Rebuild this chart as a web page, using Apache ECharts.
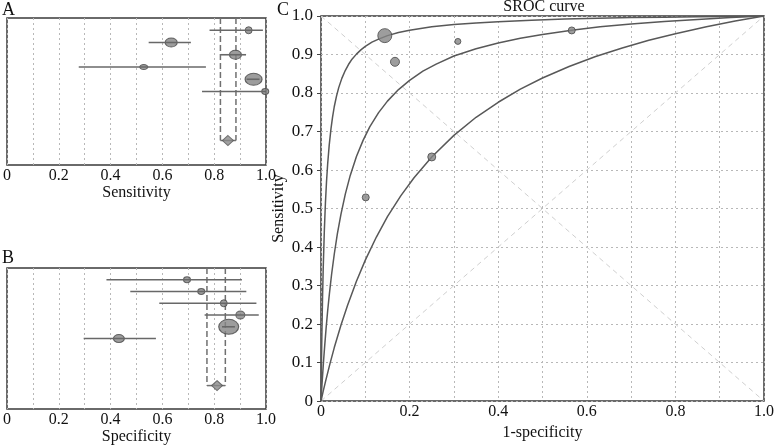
<!DOCTYPE html>
<html><head><meta charset="utf-8">
<script src="https://cdn.jsdelivr.net/npm/echarts@6/dist/echarts.min.js"></script>
<style>html,body{margin:0;padding:0;background:#fff}#c{width:777px;height:446px}</style>
</head><body><div id="c"></div>
<script>
// ---------- data ----------
const rows = [1, 2, 3, 4, 5, 6];
const pooledRow = 10;

const sensEst  = [0.933, 0.634, 0.882, 0.528, 0.952, 0.997];
const sensLow  = [0.782, 0.547, 0.826, 0.277, 0.925, 0.753];
const sensHigh = [0.988, 0.710, 0.923, 0.768, 0.975, 1.000];
const sensPooled = [0.853, 0.824, 0.884]; // estimate, low, high

const specEst  = [0.695, 0.750, 0.837, 0.901, 0.856, 0.432];
const specLow  = [0.384, 0.476, 0.588, 0.763, 0.830, 0.296];
const specHigh = [0.907, 0.924, 0.963, 0.972, 0.880, 0.575];
const specPooled = [0.811, 0.772, 0.843];

const srocFpr  = [0.309, 0.250, 0.167, 0.101, 0.144, 0.566];
const srocSens = [0.934, 0.634, 0.881, 0.529, 0.949, 0.9625];

const curveTopX = [0, 0.001, 0.002, 0.0035, 0.005, 0.0075, 0.01, 0.0125, 0.015, 0.0185, 0.0225, 0.026, 0.03, 0.035, 0.04, 0.047, 0.055, 0.062, 0.07, 0.08, 0.09, 0.1, 0.115, 0.13, 0.15, 0.175, 0.2, 0.25, 0.3, 0.35, 0.4, 0.475, 0.55, 0.625, 0.7, 0.775, 0.85, 0.925, 1];
const curveTopY = [0, 0.095, 0.174, 0.269, 0.345, 0.442, 0.515, 0.571, 0.615, 0.664, 0.707, 0.737, 0.765, 0.792, 0.814, 0.838, 0.859, 0.874, 0.888, 0.901, 0.912, 0.921, 0.932, 0.940, 0.949, 0.957, 0.963, 0.972, 0.978, 0.982, 0.985, 0.989, 0.992, 0.994, 0.996, 0.997, 0.998, 0.999, 1];
const curveMidX = [0, 0.001, 0.002, 0.004, 0.006, 0.0085, 0.0115, 0.015, 0.019, 0.024, 0.03, 0.037, 0.045, 0.055, 0.066, 0.08, 0.095, 0.11, 0.13, 0.15, 0.175, 0.2, 0.23, 0.26, 0.3, 0.35, 0.4, 0.45, 0.5, 0.566, 0.63, 0.7, 0.775, 0.85, 0.925, 1];
const curveMidY = [0, 0.020, 0.039, 0.074, 0.108, 0.146, 0.189, 0.234, 0.279, 0.330, 0.382, 0.435, 0.485, 0.538, 0.586, 0.635, 0.677, 0.712, 0.749, 0.779, 0.809, 0.833, 0.857, 0.875, 0.896, 0.915, 0.930, 0.942, 0.952, 0.963, 0.972, 0.979, 0.986, 0.991, 0.996, 1];
const curveLowX = [0, 0.005, 0.01, 0.02, 0.03, 0.045, 0.06, 0.08, 0.1, 0.125, 0.15, 0.18, 0.21, 0.25, 0.3, 0.35, 0.4, 0.45, 0.5, 0.56, 0.62, 0.68, 0.74, 0.8, 0.87, 0.935, 1];
const curveLowY = [0, 0.026, 0.050, 0.096, 0.139, 0.197, 0.249, 0.311, 0.366, 0.426, 0.479, 0.533, 0.580, 0.634, 0.690, 0.737, 0.776, 0.810, 0.839, 0.869, 0.895, 0.917, 0.937, 0.954, 0.972, 0.987, 1];

const diagUp   = [[0, 0], [1, 1]];
const diagDown = [[0, 1], [1, 0]];

const evenTickLabels = ['0', '0.2', '0.4', '0.6', '0.8', '1.0'];
const tenthTickLabels = ['0', '0.1', '0.2', '0.3', '0.4', '0.5', '0.6', '0.7', '0.8', '0.9', '1.0'];

// ---------- styles ----------
const FONT = 'Liberation Serif';
const sizeA = [[7, 7], [12, 9], [12, 9], [8, 5], [17, 12], [7, 6]];
const sizeB = [[7, 6], [7, 6], [7, 7], [9, 8], [20, 15], [11, 8]];
const sizeC = [6, 8, 9, 7, 14, 7];
const markerStyle = { color: '#858585', borderColor: '#474747', borderWidth: 1 };

function evenFmt(v) { const k = Math.round(v * 10); return k % 2 === 0 ? evenTickLabels[k / 2] : ''; }
function tenthFmt(v) { return tenthTickLabels[Math.round(v * 10)]; }

const gridLine = { show: true, lineStyle: { type: [2, 3], color: '#b8b8b8', width: 1 } };
const labelStyle = { fontFamily: FONT, fontSize: 16, color: '#111' };

function forestX(idx, name) {
  return {
    type: 'value', gridIndex: idx, min: 0, max: 1, interval: 0.1,
    axisLine: { show: false }, axisTick: { show: false }, splitLine: gridLine,
    axisLabel: Object.assign({ formatter: evenFmt, margin: 3, showMinLabel: true, showMaxLabel: true }, labelStyle),
    name: name, nameLocation: 'middle', nameGap: 17, nameTextStyle: labelStyle
  };
}
function forestY(idx) {
  return { type: 'value', gridIndex: idx, min: 0, max: 12, inverse: true, show: false };
}

function ciSeries(idx, low, high) {
  return {
    type: 'custom', xAxisIndex: idx, yAxisIndex: idx, z: 4,
    data: rows.map((r, i) => [low[i], high[i], r]),
    encode: { x: [0, 1], y: 2 },
    renderItem: function (params, api) {
      const p1 = api.coord([api.value(0), api.value(2)]);
      const p2 = api.coord([api.value(1), api.value(2)]);
      return { type: 'line', shape: { x1: p1[0], y1: p1[1], x2: p2[0], y2: p2[1] },
               style: { stroke: '#686868', lineWidth: 1.6 } };
    }
  };
}
function markerSeries(idx, est, sizes) {
  return {
    type: 'scatter', xAxisIndex: idx, yAxisIndex: idx, z: 3, symbol: 'circle',
    data: rows.map((r, i) => ({ value: [est[i], r], symbolSize: sizes[i] })),
    itemStyle: markerStyle, silent: true
  };
}
function pooledSeries(idx, pooled) {
  return [{
    type: 'custom', xAxisIndex: idx, yAxisIndex: idx, z: 2,
    data: [[pooled[1], pooled[2], pooledRow]],
    encode: { x: [0, 1], y: 2 },
    renderItem: function (params, api) {
      const lo = api.value(0), hi = api.value(1), r = api.value(2);
      const a0 = api.coord([lo, 0]), a1 = api.coord([lo, r]);
      const b0 = api.coord([hi, 0]), b1 = api.coord([hi, r]);
      const st = { stroke: '#707070', lineWidth: 1.5, lineDash: [6, 3] };
      return { type: 'group', children: [
        { type: 'line', shape: { x1: a0[0], y1: a0[1], x2: a1[0], y2: a1[1] }, style: st },
        { type: 'line', shape: { x1: b0[0], y1: b0[1], x2: b1[0], y2: b1[1] }, style: st },
        { type: 'line', shape: { x1: a1[0], y1: a1[1], x2: b1[0], y2: b1[1] }, style: { stroke: '#707070', lineWidth: 1.5 } }
      ] };
    }
  }, {
    type: 'scatter', xAxisIndex: idx, yAxisIndex: idx, z: 3, symbol: 'diamond', symbolSize: [11, 10],
    data: [[pooled[0], pooledRow]], itemStyle: { color: '#8a8a8a', borderColor: '#555', borderWidth: 1 }
  }];
}

function curve(xs, ys) {
  return {
    type: 'line', xAxisIndex: 2, yAxisIndex: 2, symbol: 'none', smooth: false, z: 3,
    data: xs.map((x, i) => [x, ys[i]]),
    lineStyle: { color: '#585858', width: 1.5 }, silent: true
  };
}
function diag(d) {
  return {
    type: 'line', xAxisIndex: 2, yAxisIndex: 2, symbol: 'none', z: 1, data: d,
    lineStyle: { color: '#cfcfcf', width: 1, type: [5, 4] }, silent: true
  };
}

const chart = echarts.init(document.getElementById('c'), null, { renderer: 'canvas' });
chart.setOption({
  animation: false,
  backgroundColor: '#fff',
  grid: [
    { left: 7, top: 18, width: 259, height: 147, show: true, borderColor: '#3a3a3a', borderWidth: 1.5, containLabel: false },
    { left: 7, top: 268, width: 259, height: 146, show: true, borderColor: '#3a3a3a', borderWidth: 1.5, containLabel: false },
    { left: 321, top: 16, width: 445, height: 397, show: true, borderColor: '#3a3a3a', borderWidth: 1.5, containLabel: false }
  ],
  xAxis: [
    forestX(0, 'Sensitivity'),
    forestX(1, 'Specificity'),
    {
      type: 'value', gridIndex: 2, min: 0, max: 1, interval: 0.1,
      axisLine: { show: false }, axisTick: { show: false }, splitLine: gridLine,
      axisLabel: Object.assign({ formatter: evenFmt, margin: 3, showMinLabel: true, showMaxLabel: true }, labelStyle),
      name: '1-specificity', nameLocation: 'middle', nameGap: 17, nameTextStyle: labelStyle
    }
  ],
  yAxis: [
    forestY(0), forestY(1),
    {
      type: 'value', gridIndex: 2, min: 0, max: 1, interval: 0.1,
      axisLine: { show: false },
      axisTick: { show: true, length: 4, lineStyle: { color: '#444', width: 1 } },
      splitLine: gridLine,
      axisLabel: Object.assign({ formatter: tenthFmt, margin: 8, showMinLabel: true, showMaxLabel: true }, labelStyle, { fontSize: 17 }),
      name: 'Sensitivity', nameLocation: 'middle', nameGap: 34, nameMoveOverlap: false, nameTextStyle: labelStyle
    }
  ],
  graphic: [
    { type: 'text', left: 2, top: 1, style: { text: 'A', font: '18px "Liberation Serif"', fill: '#111' } },
    { type: 'text', left: 2, top: 249, style: { text: 'B', font: '18px "Liberation Serif"', fill: '#111' } },
    { type: 'text', left: 277, top: 1, style: { text: 'C', font: '18px "Liberation Serif"', fill: '#111' } },
    { type: 'text', x: 544, y: 7, style: { text: 'SROC curve', font: '16px "Liberation Serif"', fill: '#111', textAlign: 'center', textVerticalAlign: 'middle' } }
  ],
  series: [
    ciSeries(0, sensLow, sensHigh),
    markerSeries(0, sensEst, sizeA),
    ...pooledSeries(0, sensPooled),
    ciSeries(1, specLow, specHigh),
    markerSeries(1, specEst, sizeB),
    ...pooledSeries(1, specPooled),
    diag(diagUp), diag(diagDown),
    curve(curveTopX, curveTopY),
    curve(curveMidX, curveMidY),
    curve(curveLowX, curveLowY),
    {
      type: 'scatter', xAxisIndex: 2, yAxisIndex: 2, z: 4, symbol: 'circle',
      data: srocFpr.map((x, i) => ({ value: [x, srocSens[i]], symbolSize: sizeC[i] })),
      itemStyle: markerStyle, silent: true
    }
  ]
});
</script></body></html>
